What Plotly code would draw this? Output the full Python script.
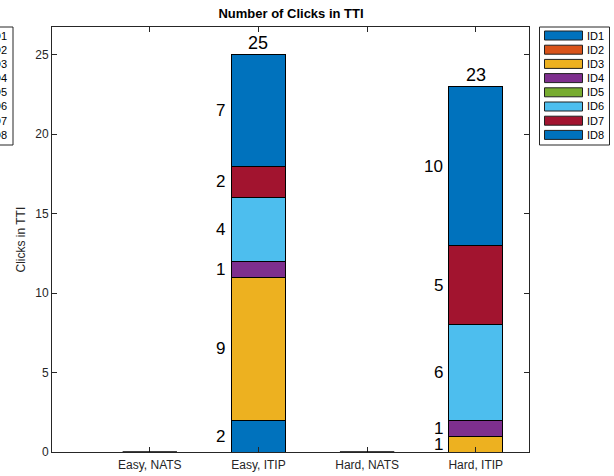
import plotly.graph_objects as go

# Conditions on the x axis
categories = ["Easy, NATS", "Easy, ITIP", "Hard, NATS", "Hard, ITIP"]
x_pos = [1, 2, 3, 4]

# Clicks per participant ID, stacked per condition
series_names = ["ID1", "ID2", "ID3", "ID4", "ID5", "ID6", "ID7", "ID8"]
id1 = [0, 2, 0, 0]
id2 = [0, 0, 0, 0]
id3 = [0, 9, 0, 1]
id4 = [0, 1, 0, 1]
id5 = [0, 0, 0, 0]
id6 = [0, 4, 0, 6]
id7 = [0, 2, 0, 5]
id8 = [0, 7, 0, 10]
series_values = [id1, id2, id3, id4, id5, id6, id7, id8]

colors = ["#0072BD", "#D95319", "#EDB120", "#7E2F8E",
          "#77AC30", "#4DBEEE", "#A2142F", "#0072BD"]

FONT = "Liberation Sans, Arial, Helvetica, sans-serif"
AX = "#262626"
BAR_W = 0.5

# figure geometry (pixels)
W, H = 614, 476
L, R, T, B = 52, 85, 27, 24
PW, PH = W - L - R, H - T - B


def px_x(px):
    return (px - L) / PW


def px_y(py):
    return (H - B - py) / PH


fig = go.Figure()
for name, vals, col in zip(series_names, series_values, colors):
    fig.add_trace(go.Bar(
        x=x_pos, y=vals, name=name, width=BAR_W,
        marker=dict(color=col, line=dict(color="black", width=1)),
        showlegend=False,
    ))

annotations = []
shapes = []

# segment value labels to the left of each stacked piece, totals on top
for i, xc in enumerate(x_pos):
    base = 0
    for vals in series_values:
        v = vals[i]
        if v > 0:
            annotations.append(dict(
                x=xc - BAR_W / 2, y=base + v / 2, xref="x", yref="y",
                text=str(v), showarrow=False, xanchor="right", yanchor="middle",
                xshift=-4, font=dict(family=FONT, size=17, color="black")))
        base += v
    if base > 0:
        annotations.append(dict(
            x=xc, y=base, xref="x", yref="y", text=str(base), showarrow=False,
            xanchor="center", yanchor="bottom", yshift=0,
            font=dict(family=FONT, size=18, color="black")))
    else:
        # zero-height bar drawn as its outline on the baseline
        shapes.append(dict(type="line", xref="x", yref="y",
                           x0=xc - BAR_W / 2, x1=xc + BAR_W / 2, y0=0, y1=0,
                           line=dict(color="black", width=1.5)))

# y axis title
annotations.append(dict(
    x=px_x(20), y=0.5, xref="paper", yref="paper", text="Clicks in TTI",
    textangle=-90, showarrow=False, xanchor="center", yanchor="middle",
    font=dict(family=FONT, size=12, color=AX)))


def add_legend(right_px):
    left_px = right_px - 70
    top_px, bottom_px = 27, 145
    shapes.append(dict(type="rect", xref="paper", yref="paper",
                       x0=px_x(left_px), x1=px_x(right_px),
                       y0=px_y(bottom_px), y1=px_y(top_px),
                       line=dict(color=AX, width=1), fillcolor="white", layer="above"))
    for k, (name, col) in enumerate(zip(series_names, colors)):
        cy = 35.5 + k * 14.2
        shapes.append(dict(type="rect", xref="paper", yref="paper",
                           x0=px_x(left_px + 5), x1=px_x(left_px + 43),
                           y0=px_y(cy + 4.5), y1=px_y(cy - 4.5),
                           line=dict(color="#202020", width=1), fillcolor=col,
                           layer="above"))
        annotations.append(dict(
            x=px_x(left_px + 45), y=px_y(cy), xref="paper", yref="paper",
            text=name, showarrow=False, xanchor="left", yanchor="middle",
            font=dict(family=FONT, size=11, color="black")))


add_legend(609.5)
add_legend(13)

fig.update_layout(
    width=W, height=H,
    margin=dict(l=L, r=R, t=T, b=B, pad=0, autoexpand=False),
    barmode="stack",
    plot_bgcolor="white", paper_bgcolor="white",
    title=dict(text="<b>Number of Clicks in TTI</b>", x=px_x(291), xanchor="center",
               xref="paper", y=1 - 13 / H, yanchor="middle",
               font=dict(family=FONT, size=13, color="black")),
    xaxis=dict(range=[0.1, 4.49], tickvals=x_pos, ticktext=categories,
               ticks="inside", ticklen=5, tickcolor=AX, showline=True,
               linecolor=AX, linewidth=1, mirror="ticks", showgrid=False,
               zeroline=False, automargin=False, ticklabelstandoff=2,
               tickfont=dict(family=FONT, size=12, color=AX)),
    yaxis=dict(range=[0, 26.75], tickvals=[0, 5, 10, 15, 20, 25],
               ticks="inside", ticklen=5, tickcolor=AX, showline=True,
               linecolor=AX, linewidth=1, mirror="ticks", showgrid=False,
               zeroline=False, automargin=False,
               tickfont=dict(family=FONT, size=12, color=AX)),
    annotations=annotations, shapes=shapes,
    showlegend=False,
)

fig.write_html("out.html")
